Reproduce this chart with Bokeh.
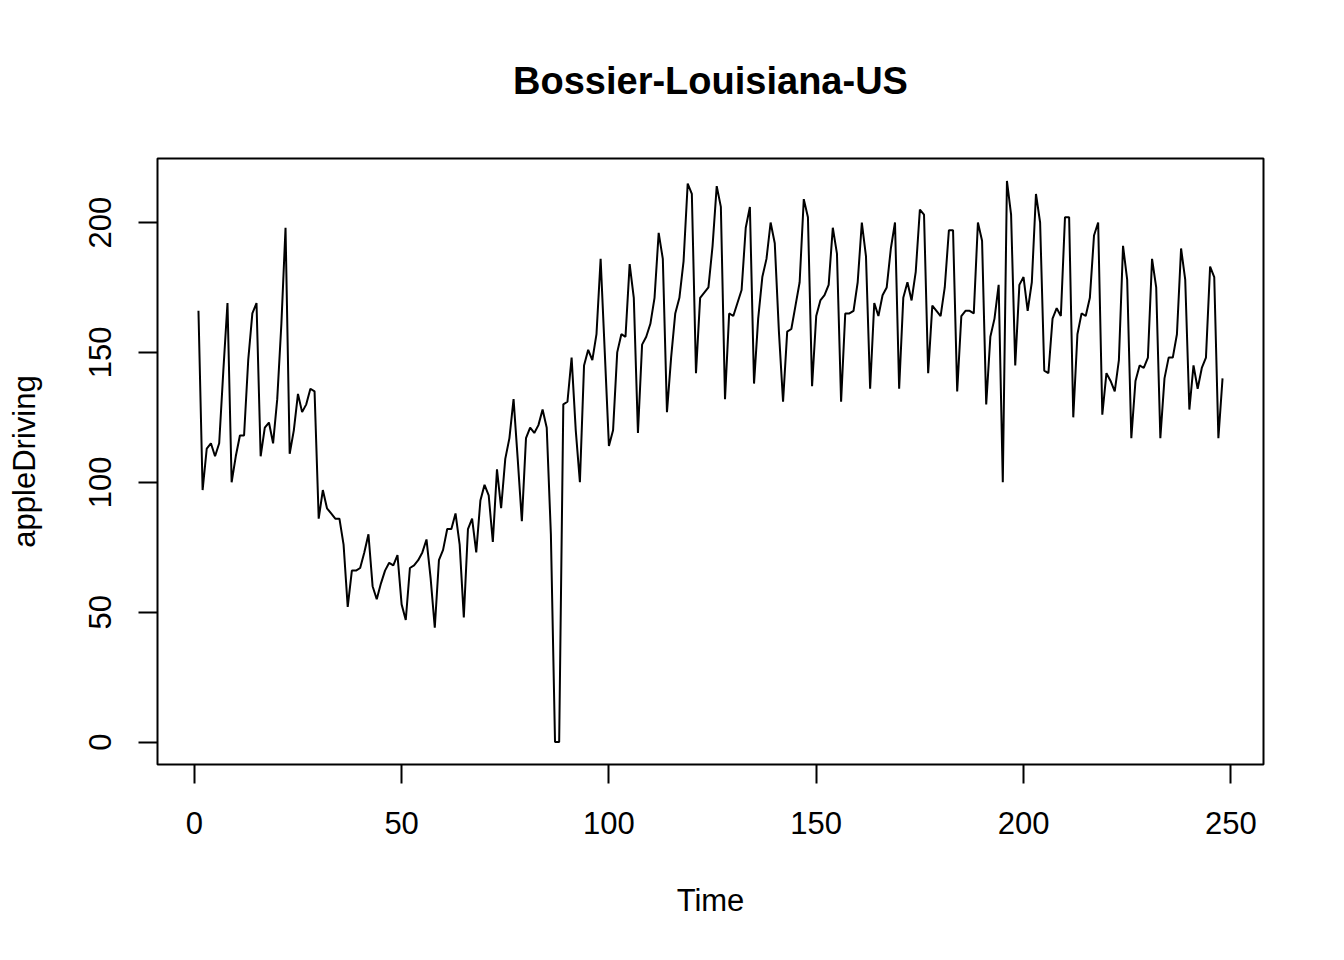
from bokeh.plotting import figure
from bokeh.models import FixedTicker, Range1d
from bokeh.embed import file_html
from bokeh.resources import INLINE

time = list(range(1, 249))
apple_driving = [
    166, 97, 113, 115, 110, 115, 143, 169, 100, 110,
    118, 118, 147, 165, 169, 110, 121, 123, 115, 132,
    161, 198, 111, 120, 134, 127, 130, 136, 135, 86,
    97, 90, 88, 86, 86, 76, 52, 66, 66, 67,
    73, 80, 60, 55, 61, 66, 69, 68, 72, 53,
    47, 67, 68, 70, 73, 78, 63, 44, 70, 74,
    82, 82, 88, 76, 48, 82, 86, 73, 93, 99,
    95, 77, 105, 90, 109, 117, 132, 109, 85, 117,
    121, 119, 122, 128, 121, 80, 0, 0, 130, 131,
    148, 120, 100, 145, 151, 147, 157, 186, 150, 114,
    120, 150, 157, 156, 184, 171, 119, 153, 156, 161,
    171, 196, 186, 127, 148, 165, 171, 185, 215, 211,
    142, 171, 173, 175, 191, 214, 206, 132, 165, 164,
    169, 174, 198, 206, 138, 163, 179, 186, 200, 192,
    158, 131, 158, 159, 168, 177, 209, 202, 137, 164,
    170, 172, 176, 198, 188, 131, 165, 165, 166, 177,
    200, 187, 136, 169, 164, 172, 175, 190, 200, 136,
    171, 177, 170, 181, 205, 203, 142, 168, 166, 164,
    175, 197, 197, 135, 164, 166, 166, 165, 200, 193,
    130, 156, 163, 176, 100, 216, 203, 145, 176, 179,
    166, 177, 211, 200, 143, 142, 163, 167, 164, 202,
    202, 125, 157, 165, 164, 171, 195, 200, 126, 142,
    139, 135, 147, 191, 178, 117, 139, 145, 144, 148,
    186, 175, 117, 140, 148, 148, 157, 190, 178, 128,
    145, 136, 144, 148, 183, 179, 117, 140,
]
x_ticks = [0, 50, 100, 150, 200, 250]
y_ticks = [0, 50, 100, 150, 200]

FONT = "Liberation Sans"


def r_range(vals):
    # R pads the data range by 4% on each side
    lo, hi = min(vals), max(vals)
    pad = 0.04 * (hi - lo)
    return Range1d(lo - pad, hi + pad)


p = figure(width=1328, height=944, output_backend="svg", toolbar_location=None,
           x_range=r_range(time), y_range=r_range(apple_driving),
           min_border_left=157, min_border_right=65,
           min_border_top=157, min_border_bottom=180,
           title="Bossier-Louisiana-US")

p.line(time, apple_driving, line_color="black", line_width=2)

p.title.align = "center"
p.title.text_font = FONT
p.title.text_font_size = "38px"
p.title.text_font_style = "bold"
p.title.text_color = "black"
p.title.standoff = 114

p.outline_line_color = "black"
p.outline_line_width = 2
p.xgrid.grid_line_color = None
p.ygrid.grid_line_color = None
p.background_fill_color = "white"
p.border_fill_color = "white"

p.xaxis.ticker = FixedTicker(ticks=x_ticks)
p.yaxis.ticker = FixedTicker(ticks=y_ticks)
p.xaxis.axis_label = "Time"
p.yaxis.axis_label = "appleDriving"
p.yaxis.major_label_orientation = "vertical"

for ax in (p.xaxis, p.yaxis):
    ax.axis_line_color = None
    ax.major_tick_line_color = "black"
    ax.major_tick_line_width = 2
    ax.major_tick_out = 19
    ax.major_tick_in = 0
    ax.minor_tick_line_color = None
    ax.major_label_text_font = FONT
    ax.major_label_text_font_size = "31px"
    ax.major_label_text_color = "black"
    ax.axis_label_text_font = FONT
    ax.axis_label_text_font_size = "31px"
    ax.axis_label_text_font_style = "normal"
    ax.axis_label_text_color = "black"

p.xaxis.major_label_standoff = 28
p.xaxis.axis_label_standoff = 46
p.yaxis.major_label_standoff = 27
p.yaxis.axis_label_standoff = 45

open("out.html", "w").write(file_html(p, INLINE))
